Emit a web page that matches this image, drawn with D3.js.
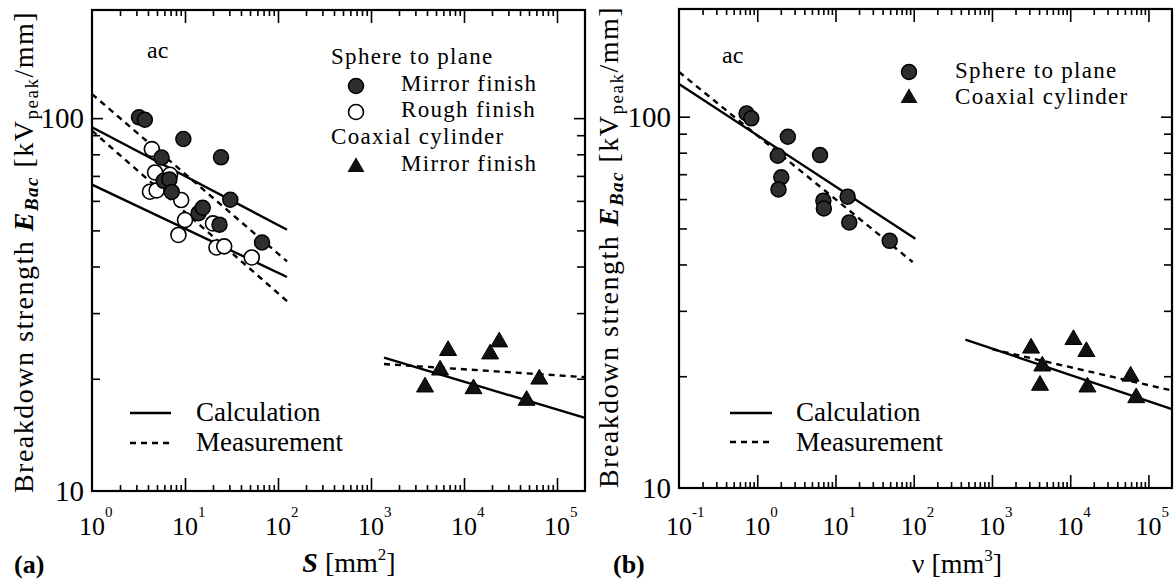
<!DOCTYPE html>
<html><head><meta charset="utf-8">
<script src="https://cdn.jsdelivr.net/npm/d3@7"></script>
<style>
body{margin:0;background:#fff}
svg{display:block}
text{font-family:"Liberation Serif","Times New Roman",serif;fill:#000}
</style>
</head><body>
<svg id="c" width="1175" height="582"></svg>
<script>
// ---------- DATA ----------
const leftXExponents = [0, 1, 2, 3, 4, 5];
const rightXExponents = [-1, 0, 1, 2, 3, 4, 5];
const yTickLabels = [10, 100];

// (a) breakdown strength vs electrode area S [mm^2] -> E [kVpeak/mm]
const aSphereMirror = [[3.2,100.5],[3.7,99],[9.6,87.9],[24.4,78.5],[5.6,78.4],[5.9,67.9],[6.8,68.5],[7.2,63.4],[14,55.6],[15.5,57.5],[23.5,51.8],[30.7,60.4],[67.4,46.4]];
const aSphereRough = [[4.4,82.6],[4.77,71.5],[6.9,70.5],[4.2,63.5],[4.95,64],[9.1,60.3],[10,53.3],[8.5,48.6],[20,52.2],[21.8,45],[26.4,45.3],[52.2,42.3]];
const aCoaxMirror = [[6740,23.8],[23900,25.1],[19100,23.3],[5530,21.1],[3810,19.0],[12650,18.8],[47100,17.5],[64500,19.95]];
const aCalcSphereMirror = [[1,94.5],[125,50.2]];
const aCalcSphereRough = [[1,66.3],[125,37.5]];
const aMeasSphereMirror = [[1,116],[125,41.3]];
const aMeasSphereRough = [[1,92.5],[125,32.3]];
const aCalcCoax = [[1380,22.8],[2e5,15.7]];
const aMeasCoax = [[1380,21.9],[2e5,20.2]];

// (b) breakdown strength vs stressed volume v [mm^3]
const bSphere = [[0.73,102],[0.84,99],[2.46,88.3],[1.83,78.5],[6.35,78.8],[2.03,68.7],[1.87,63.7],[14.3,60.9],[7.0,59.4],[7.1,56.6],[15,51.9],[49.3,46.3]];
const bCoax = [[3160,23.8],[16100,23.3],[11000,25.1],[4400,21.3],[4110,18.9],[16600,18.7],[59200,20.0],[69800,17.5]];
const bCalcSphere = [[0.1,122.5],[105,46.9]];
const bMeasSphere = [[0.1,132],[97,40.6]];
const bCalcCoax = [[457,25.1],[2e5,16.3]];
const bMeasCoax = [[1000,23.65],[2e5,18.3]];

// ---------- DRAW ----------
const svg = d3.select("#c");
const yDomain = [10, 195];

function minorTicks(domain){
  const out = [];
  const lo = Math.floor(Math.log10(domain[0])), hi = Math.ceil(Math.log10(domain[1]));
  for (let e = lo; e <= hi; e++) for (let k = 2; k <= 9; k++) {
    const v = k * Math.pow(10, e);
    if (v > domain[0] * 1.0001 && v < domain[1] * 0.9999) out.push(v);
  }
  return out;
}

function panel(cfg){
  const g = svg.append("g");
  const x = d3.scaleLog().domain(cfg.xDomain).range([cfg.x0, cfg.x1]);
  const y = d3.scaleLog().domain(yDomain).range([cfg.y1, cfg.y0]);
  const xMaj = cfg.exps.map(e => Math.pow(10, e)).filter(v => v > cfg.xDomain[0]*1.0001 && v < cfg.xDomain[1]);
  const xMin = minorTicks(cfg.xDomain);
  const yMaj = [100];
  const yMin = minorTicks(yDomain).filter(v => v !== 100);
  const axes = [
    [d3.axisBottom(x).tickValues(xMaj).tickSize(-13), `translate(0,${cfg.y1})`],
    [d3.axisBottom(x).tickValues(xMin).tickSize(-6), `translate(0,${cfg.y1})`],
    [d3.axisTop(x).tickValues(xMaj).tickSize(-13), `translate(0,${cfg.y0})`],
    [d3.axisTop(x).tickValues(xMin).tickSize(-6), `translate(0,${cfg.y0})`],
    [d3.axisLeft(y).tickValues(yMaj).tickSize(-11), `translate(${cfg.x0},0)`],
    [d3.axisLeft(y).tickValues(yMin).tickSize(-8), `translate(${cfg.x0},0)`],
    [d3.axisRight(y).tickValues(yMaj).tickSize(-11), `translate(${cfg.x1},0)`],
    [d3.axisRight(y).tickValues(yMin).tickSize(-8), `translate(${cfg.x1},0)`]
  ];
  axes.forEach(([ax, tr]) => {
    const a = g.append("g").attr("transform", tr).call(ax.tickFormat(""));
    a.select(".domain").remove();
    a.selectAll("line").attr("stroke", "#000").attr("stroke-width", 1.6);
  });
  g.append("rect").attr("x", cfg.x0).attr("y", cfg.y0)
    .attr("width", cfg.x1 - cfg.x0).attr("height", cfg.y1 - cfg.y0)
    .attr("fill", "none").attr("stroke", "#000").attr("stroke-width", 2.2);

  // x tick labels 10^n
  cfg.exps.forEach(e => {
    const px = x(Math.pow(10, e));
    g.append("text").attr("x", px).attr("y", 535).attr("text-anchor", "middle")
      .style("font-size", "26px").text("10");
    g.append("text").attr("x", px + 13).attr("y", 517)
      .style("font-size", "15px").text(String(e));
  });
  // y tick labels
  yTickLabels.forEach(v => {
    g.append("text").attr("x", cfg.x0 - 8).attr("y", y(v) + 10).attr("text-anchor", "end")
      .style("font-size", "29px").text(String(v));
  });
  // y axis title
  const t = g.append("text")
    .attr("transform", `translate(${cfg.ytx},${cfg.yty}) rotate(-90)`)
    .attr("text-anchor", "middle").style("font-size", "28px").style("letter-spacing", "1.5px");
  t.append("tspan").text("Breakdown strength ");
  t.append("tspan").attr("font-style", "italic").attr("font-weight", "bold").text("E");
  t.append("tspan").attr("font-style", "italic").attr("font-weight", "bold").style("font-size", "19px").attr("dy", 5).text("Bac");
  t.append("tspan").attr("dy", -5).text(" [kV");
  t.append("tspan").style("font-size", "19px").attr("dy", 5).text("peak");
  t.append("tspan").attr("dy", -5).text("/mm]");

  // panel letter
  g.append("text").attr("x", cfg.letterX).attr("y", 573).style("font-size", "26px")
    .attr("font-weight", "bold").text(cfg.letter);

  const line = d3.line().x(d => x(d[0])).y(d => y(d[1]));
  return {g, x, y, line};
}

function drawLine(P, data, dashed){
  P.g.append("path").datum(data).attr("d", P.line).attr("fill", "none")
    .attr("stroke", "#000").attr("stroke-width", 2.4)
    .attr("stroke-dasharray", dashed ? "6,5" : null);
}
function circles(P, data, filled){
  P.g.selectAll(null).data(data).enter().append("circle")
    .attr("cx", d => P.x(d[0])).attr("cy", d => P.y(d[1])).attr("r", 7.5)
    .attr("fill", filled ? "#2e2e2e" : "#fff").attr("stroke", "#000").attr("stroke-width", filled ? 1.5 : 1.6);
}
const tri = d3.symbol().type(d3.symbolTriangle).size(125);
function triangles(P, data){
  P.g.selectAll(null).data(data).enter().append("path")
    .attr("d", tri).attr("transform", d => `translate(${P.x(d[0])},${P.y(d[1])})`)
    .attr("fill", "#111").attr("stroke", "#000").attr("stroke-width", 1);
}
function legendText(g, xx, yy, s, size, ls){
  g.append("text").attr("x", xx).attr("y", yy).style("font-size", (size || 25) + "px")
    .style("letter-spacing", (ls || 0) + "px").text(s);
}

// ---------- Panel (a) ----------
const A = panel({x0: 92, x1: 585, y0: 10, y1: 491, xDomain: [1, 2e5], exps: leftXExponents,
  ytx: 33, yty: 252, letter: "(a)", letterX: 14});
drawLine(A, aCalcSphereMirror, false);
drawLine(A, aCalcSphereRough, false);
drawLine(A, aMeasSphereMirror, true);
drawLine(A, aMeasSphereRough, true);
drawLine(A, aCalcCoax, false);
drawLine(A, aMeasCoax, true);
circles(A, aSphereRough, false);
circles(A, aSphereMirror, true);
triangles(A, aCoaxMirror);

const tA = A.g.append("text").attr("x", 349).attr("y", 572).attr("text-anchor", "middle").style("font-size", "28px");
tA.append("tspan").attr("font-weight", "bold").attr("font-style", "italic").text("S");
tA.append("tspan").text(" [mm");
tA.append("tspan").style("font-size", "17px").attr("dy", -12).text("2");
tA.append("tspan").attr("dy", 12).text("]");

legendText(A.g, 147, 58, "ac", 24);
legendText(A.g, 331, 64, "Sphere to plane", 23, 1.3);
legendText(A.g, 401, 91, "Mirror finish", 23, 1.3);
legendText(A.g, 401, 117, "Rough finish", 23, 1.3);
legendText(A.g, 331, 144, "Coaxial cylinder", 23, 1.3);
legendText(A.g, 401, 171, "Mirror finish", 23, 1.3);
A.g.append("circle").attr("cx", 356).attr("cy", 86).attr("r", 7.5).attr("fill", "#2e2e2e").attr("stroke", "#000").attr("stroke-width", 1.5);
A.g.append("circle").attr("cx", 356).attr("cy", 112).attr("r", 7.5).attr("fill", "#fff").attr("stroke", "#000").attr("stroke-width", 1.6);
A.g.append("path").attr("d", tri).attr("transform", "translate(356,167)").attr("fill", "#111");
A.g.append("line").attr("x1", 130).attr("x2", 171).attr("y1", 413).attr("y2", 413).attr("stroke", "#000").attr("stroke-width", 2.4);
A.g.append("line").attr("x1", 130).attr("x2", 171).attr("y1", 443).attr("y2", 443).attr("stroke", "#000").attr("stroke-width", 2.4).attr("stroke-dasharray", "6,5");
legendText(A.g, 196, 421, "Calculation", 27);
legendText(A.g, 196, 451, "Measurement", 27);

// ---------- Panel (b) ----------
const B = panel({x0: 679, x1: 1172, y0: 9, y1: 488, xDomain: [0.1, 2e5], exps: rightXExponents,
  ytx: 618, yty: 247, letter: "(b)", letterX: 613});
drawLine(B, bCalcSphere, false);
drawLine(B, bMeasSphere, true);
drawLine(B, bCalcCoax, false);
drawLine(B, bMeasCoax, true);
circles(B, bSphere, true);
triangles(B, bCoax);

const tB = B.g.append("text").attr("x", 957).attr("y", 573).attr("text-anchor", "middle").style("font-size", "28px");
tB.append("tspan").text("ν [mm");
tB.append("tspan").style("font-size", "17px").attr("dy", -12).text("3");
tB.append("tspan").attr("dy", 12).text("]");

legendText(B.g, 722, 63, "ac", 24);
legendText(B.g, 955, 78, "Sphere to plane", 23, 1.3);
legendText(B.g, 955, 104, "Coaxial cylinder", 23, 1.3);
B.g.append("circle").attr("cx", 909).attr("cy", 72).attr("r", 7.5).attr("fill", "#2e2e2e").attr("stroke", "#000").attr("stroke-width", 1.5);
B.g.append("path").attr("d", tri).attr("transform", "translate(909,98)").attr("fill", "#111");
B.g.append("line").attr("x1", 730).attr("x2", 772).attr("y1", 413).attr("y2", 413).attr("stroke", "#000").attr("stroke-width", 2.4);
B.g.append("line").attr("x1", 730).attr("x2", 772).attr("y1", 442).attr("y2", 442).attr("stroke", "#000").attr("stroke-width", 2.4).attr("stroke-dasharray", "6,5");
legendText(B.g, 796, 421, "Calculation", 27);
legendText(B.g, 796, 451, "Measurement", 27);
</script>
</body></html>
